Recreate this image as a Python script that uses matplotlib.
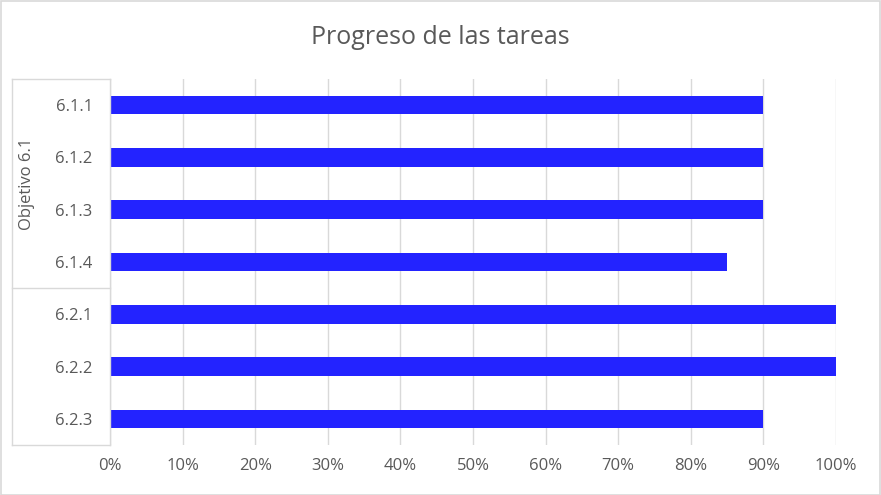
import numpy as np
import matplotlib
matplotlib.use("Agg")
import matplotlib.pyplot as plt
import matplotlib.transforms as mtransforms
from matplotlib.patches import Rectangle

# data
tasks = ["6.1.1", "6.1.2", "6.1.3", "6.1.4", "6.2.1", "6.2.2", "6.2.3"]
progress = [0.90, 0.90, 0.90, 0.85, 1.00, 1.00, 0.90]
group_label = "Objetivo 6.1"
group_sizes = [4, 3]
x_ticks = [0, 0.1, 0.2, 0.3, 0.4, 0.5, 0.6, 0.7, 0.8, 0.9, 1.0]

BAR = "#2323FF"
GRID = "#d9d9d9"
TXT = "#595959"
plt.rcParams["font.family"] = ["Open Sans", "DejaVu Sans"]

fig = plt.figure(figsize=(8.81, 4.95), dpi=100)
fig.patch.set_facecolor("white")
fig.patches.append(Rectangle((0.001, 0.001), 0.998, 0.997, transform=fig.transFigure,
                             fill=False, edgecolor=GRID, linewidth=1.2))

ax = fig.add_axes([110 / 881, 1 - 445 / 495, 726 / 881, 366 / 495])
y = np.arange(len(tasks))
ax.barh(y, progress, height=0.355, color=BAR, zorder=3)

ax.set_ylim(len(tasks) - 0.5, -0.5)
ax.set_xlim(0, 1.0)
ax.set_xticks(x_ticks)
ax.set_xticklabels([f"{int(round(t * 100))}%" for t in x_ticks], fontsize=12, color=TXT)
ax.set_yticks(y)
ax.set_yticklabels(tasks, fontsize=12, color=TXT)
ax.tick_params(axis="both", length=0)
ax.tick_params(axis="y", pad=12.5)
ax.tick_params(axis="x", pad=9.5)
ax.grid(axis="x", color=GRID, linewidth=1, zorder=0)
for s in ["top", "right", "bottom"]:
    ax.spines[s].set_visible(False)
ax.spines["left"].set_color(GRID)
ax.spines["left"].set_linewidth(1)
ax.spines["left"].set_zorder(4)

# group box on the category axis
trans = mtransforms.blended_transform_factory(ax.transAxes, ax.transData)
x0 = (12 - 110) / 726
bounds = [-0.5]
for g in group_sizes:
    bounds.append(bounds[-1] + g)
for b in bounds:
    ax.plot([x0, 0], [b, b], transform=trans, color=GRID, lw=1, clip_on=False)
ax.plot([x0, x0], [bounds[0], bounds[-1]], transform=trans, color=GRID, lw=1, clip_on=False)
ax.text((27 - 110) / 726, (bounds[0] + bounds[1]) / 2, group_label, transform=trans,
        rotation=90, ha="center", va="center", fontsize=12, color=TXT)

fig.text(440 / 881, 1 - 37 / 495, "Progreso de las tareas", ha="center", va="center",
         fontsize=18, color=TXT)

fig.savefig("out.png", dpi=100)
